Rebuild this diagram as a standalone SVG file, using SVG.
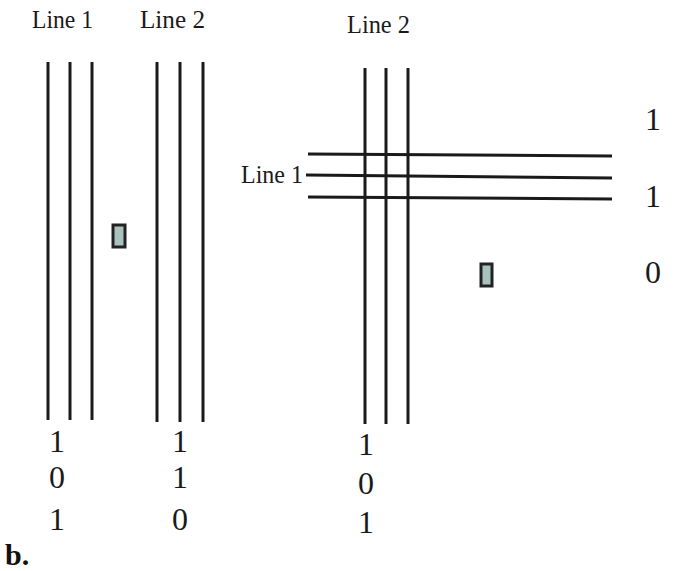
<svg xmlns="http://www.w3.org/2000/svg" width="674" height="571" viewBox="0 0 674 571">
<style>
.ln{stroke:#1a1a1a;stroke-width:3;fill:none}
.lbl{font-family:"Liberation Serif","Times New Roman","DejaVu Serif",serif;font-size:25px;fill:#1a1a1a}
.dg{font-family:"Liberation Serif","Times New Roman","DejaVu Serif",serif;font-size:32px;fill:#1a1a1a;text-anchor:middle}
.cell{fill:#a9c2bb;stroke:#222;stroke-width:3}
.b{font-family:"Liberation Serif","Times New Roman","DejaVu Serif",serif;font-size:30px;font-weight:bold;fill:#111}
</style>
<rect width="674" height="571" fill="#ffffff"/>
<g id="connectors">
<line class="ln" x1="48" y1="62" x2="48" y2="420"/>
<line class="ln" x1="70" y1="62" x2="70" y2="420"/>
<line class="ln" x1="92" y1="62" x2="92" y2="420"/>
<line class="ln" x1="157" y1="62" x2="157" y2="422"/>
<line class="ln" x1="180" y1="62" x2="180" y2="422"/>
<line class="ln" x1="203" y1="62" x2="203" y2="422"/>
<line class="ln" x1="365" y1="68" x2="365" y2="424"/>
<line class="ln" x1="386" y1="68" x2="386" y2="424"/>
<line class="ln" x1="408" y1="68" x2="408" y2="424"/>
<line class="ln" x1="308" y1="154" x2="612" y2="156"/>
<line class="ln" x1="306" y1="175" x2="612" y2="178"/>
<line class="ln" x1="308" y1="197" x2="612" y2="199"/>
</g>
<g id="labels">
<text class="lbl" x="32" y="28" textLength="61" lengthAdjust="spacingAndGlyphs">Line 1</text>
<text class="lbl" x="140" y="28" textLength="65" lengthAdjust="spacingAndGlyphs">Line 2</text>
<text class="lbl" x="347" y="33" textLength="63" lengthAdjust="spacingAndGlyphs">Line 2</text>
<text class="lbl" x="241" y="183" textLength="62" lengthAdjust="spacingAndGlyphs">Line 1</text>
</g>
<g id="cell-left"><rect class="cell" x="113" y="225" width="12" height="22"/></g>
<g id="cell-right"><rect class="cell" x="481" y="264" width="11" height="22"/></g>
<g id="digits">
<text class="dg" x="57" y="452">1</text>
<text class="dg" x="57" y="488">0</text>
<text class="dg" x="57" y="530">1</text>
<text class="dg" x="180" y="452">1</text>
<text class="dg" x="180" y="488">1</text>
<text class="dg" x="180" y="530">0</text>
<text class="dg" x="366" y="455">1</text>
<text class="dg" x="366" y="494">0</text>
<text class="dg" x="366" y="533">1</text>
<text class="dg" x="653" y="130">1</text>
<text class="dg" x="653" y="207">1</text>
<text class="dg" x="653" y="283">0</text>
</g>
<text class="b" x="5" y="565">b.</text>
</svg>
